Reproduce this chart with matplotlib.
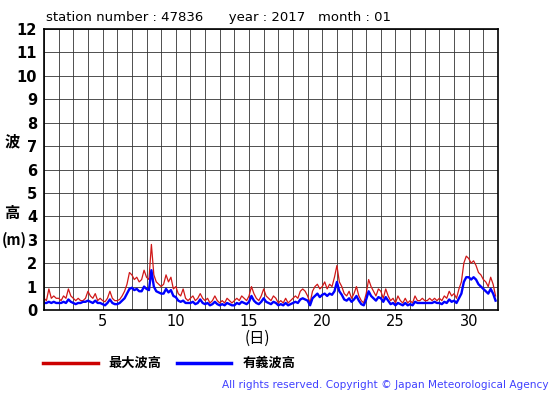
import numpy as np
import matplotlib
matplotlib.use("Agg")
import matplotlib.pyplot as plt

plt.rcParams['font.family'] = ['DejaVu Sans', 'Noto Sans CJK JP']

# 4-hourly samples (6 per day), January 2017, station 47836
days = list(range(1, 32))
max_wave = [
    [0.5, 0.4, 0.9, 0.5, 0.6, 0.5],   # 1
    [0.5, 0.4, 0.6, 0.5, 0.9, 0.6],   # 2
    [0.5, 0.4, 0.5, 0.4, 0.4, 0.5],   # 3
    [0.8, 0.6, 0.5, 0.7, 0.4, 0.5],   # 4
    [0.4, 0.35, 0.5, 0.8, 0.5, 0.4],  # 5
    [0.4, 0.45, 0.6, 0.8, 1.1, 1.6],  # 6
    [1.5, 1.3, 1.4, 1.2, 1.3, 1.7],   # 7
    [1.4, 1.3, 2.8, 1.5, 1.2, 1.1],   # 8
    [1.0, 1.1, 1.5, 1.2, 1.4, 0.9],   # 9
    [1.0, 0.7, 0.6, 0.9, 0.5, 0.4],   # 10
    [0.5, 0.6, 0.4, 0.5, 0.7, 0.5],   # 11
    [0.4, 0.5, 0.3, 0.4, 0.6, 0.4],   # 12
    [0.3, 0.4, 0.3, 0.5, 0.4, 0.3],   # 13
    [0.4, 0.5, 0.4, 0.6, 0.5, 0.4],   # 14
    [0.6, 1.0, 0.7, 0.5, 0.4, 0.6],   # 15
    [0.9, 0.6, 0.5, 0.4, 0.6, 0.5],   # 16
    [0.3, 0.4, 0.3, 0.5, 0.3, 0.4],   # 17
    [0.5, 0.6, 0.5, 0.8, 0.9, 0.8],   # 18
    [0.6, 0.3, 0.8, 1.0, 1.1, 0.9],   # 19
    [1.0, 1.2, 0.9, 1.1, 1.0, 1.4],   # 20
    [1.9, 1.2, 1.0, 0.7, 0.6, 0.8],   # 21
    [0.5, 0.7, 1.0, 0.6, 0.4, 0.3],   # 22
    [0.7, 1.3, 1.0, 0.8, 0.6, 0.9],   # 23
    [0.8, 0.5, 0.9, 0.6, 0.4, 0.5],   # 24
    [0.3, 0.6, 0.4, 0.3, 0.5, 0.3],   # 25
    [0.4, 0.3, 0.6, 0.4, 0.4, 0.5],   # 26
    [0.4, 0.4, 0.5, 0.4, 0.5, 0.4],   # 27
    [0.5, 0.4, 0.6, 0.5, 0.8, 0.6],   # 28
    [0.7, 0.5, 0.9, 1.2, 2.0, 2.3],   # 29
    [2.2, 2.0, 2.1, 1.9, 1.6, 1.5],   # 30
    [1.3, 1.2, 1.0, 1.4, 1.1, 0.6],   # 31
]
sig_wave = [
    [0.3, 0.3, 0.35, 0.3, 0.35, 0.3],   # 1
    [0.3, 0.3, 0.35, 0.3, 0.45, 0.35],  # 2
    [0.3, 0.25, 0.3, 0.3, 0.35, 0.35],  # 3
    [0.4, 0.35, 0.3, 0.4, 0.3, 0.3],    # 4
    [0.25, 0.2, 0.3, 0.45, 0.3, 0.25],  # 5
    [0.25, 0.3, 0.4, 0.5, 0.7, 0.9],    # 6
    [0.95, 0.85, 0.9, 0.8, 0.8, 1.0],   # 7
    [0.9, 0.85, 1.7, 1.0, 0.8, 0.75],   # 8
    [0.7, 0.7, 0.9, 0.75, 0.85, 0.6],   # 9
    [0.55, 0.4, 0.35, 0.4, 0.3, 0.3],   # 10
    [0.3, 0.35, 0.25, 0.3, 0.45, 0.3],  # 11
    [0.25, 0.3, 0.2, 0.25, 0.35, 0.25], # 12
    [0.2, 0.25, 0.2, 0.3, 0.25, 0.2],   # 13
    [0.2, 0.3, 0.25, 0.35, 0.3, 0.25],  # 14
    [0.35, 0.6, 0.4, 0.3, 0.25, 0.35],  # 15
    [0.5, 0.35, 0.3, 0.25, 0.35, 0.3],  # 16
    [0.2, 0.25, 0.2, 0.3, 0.2, 0.25],   # 17
    [0.3, 0.35, 0.3, 0.45, 0.5, 0.45],  # 18
    [0.4, 0.2, 0.5, 0.6, 0.7, 0.55],    # 19
    [0.65, 0.7, 0.6, 0.7, 0.65, 0.8],   # 20
    [1.2, 0.8, 0.65, 0.45, 0.4, 0.5],   # 21
    [0.35, 0.45, 0.6, 0.4, 0.25, 0.2],  # 22
    [0.45, 0.8, 0.6, 0.5, 0.4, 0.55],   # 23
    [0.5, 0.35, 0.55, 0.4, 0.25, 0.3],  # 24
    [0.2, 0.3, 0.25, 0.2, 0.3, 0.2],    # 25
    [0.25, 0.2, 0.35, 0.3, 0.3, 0.3],   # 26
    [0.3, 0.3, 0.3, 0.3, 0.35, 0.3],    # 27
    [0.3, 0.25, 0.35, 0.3, 0.45, 0.35], # 28
    [0.4, 0.3, 0.5, 0.7, 1.2, 1.4],     # 29
    [1.4, 1.3, 1.4, 1.3, 1.1, 1.0],     # 30
    [0.9, 0.8, 0.7, 0.9, 0.7, 0.4],     # 31
]
x_ticks = [5, 10, 15, 20, 25, 30]
y_ticks = list(range(0, 13))

per_day = len(max_wave[0])
t = np.array([d + k / per_day for d in days for k in range(per_day)])
hmax = np.array(max_wave).ravel()
hsig = np.array(sig_wave).ravel()

fig = plt.figure(figsize=(5.55, 3.95), dpi=100)
ax = fig.add_axes([44 / 555, 1 - 310 / 395, 454 / 555, 281 / 395])

ax.plot(t, hmax, color='#d01818', lw=0.9)
ax.plot(t, hsig, color='#0000ff', lw=1.7)

ax.set_xlim(1, 32)
ax.set_ylim(0, 12)
ax.set_xticks(range(1, 33), minor=True)
ax.set_xticks(x_ticks)
ax.set_yticks(y_ticks)
ax.grid(True, which='both', color='#333333', lw=0.6)
ax.tick_params(length=0, which='both')
ax.tick_params(axis='x', labelsize=10.5, pad=3)
ax.tick_params(axis='y', pad=5)
for lab in ax.get_yticklabels():
    lab.set_fontweight('bold')
    lab.set_fontsize(10.5)
for s in ax.spines.values():
    s.set_color('black')
    s.set_linewidth(1.2)

fig.text(46 / 555, 1 - 17 / 395, 'station number : 47836      year : 2017   month : 01',
         fontsize=9.5, va='center', ha='left')

jp = ['Noto Sans CJK JP', 'DejaVu Sans']
fig.text(12 / 555, 1 - 141 / 395, '波', family=jp, fontsize=11, fontweight='bold', ha='center', va='center')
fig.text(12 / 555, 1 - 213 / 395, '高', family=jp, fontsize=11, fontweight='bold', ha='center', va='center')
fig.text(14 / 555, 1 - 240 / 395, '(m)', family=jp, fontsize=10.5, fontweight='bold', ha='center', va='center')
fig.text(257 / 555, 1 - 338 / 395, '(日)', family=jp, fontsize=11, ha='center', va='center')

fig.add_artist(plt.Line2D([43 / 555, 98 / 555], [1 - 363 / 395] * 2, color='#cc0000', lw=2.5))
fig.text(108 / 555, 1 - 363 / 395, '最大波高', family=jp, fontsize=9.5, fontweight='bold', va='center')
fig.add_artist(plt.Line2D([177 / 555, 231 / 555], [1 - 363 / 395] * 2, color='#0000ff', lw=2.5))
fig.text(243 / 555, 1 - 363 / 395, '有義波高', family=jp, fontsize=9.5, fontweight='bold', va='center')

fig.text(549 / 555, 1 - 385 / 395, 'All rights reserved. Copyright © Japan Meteorological Agency',
         fontsize=7.6, color='#4040ff', ha='right', va='center')

fig.savefig('out.png', dpi=100)
